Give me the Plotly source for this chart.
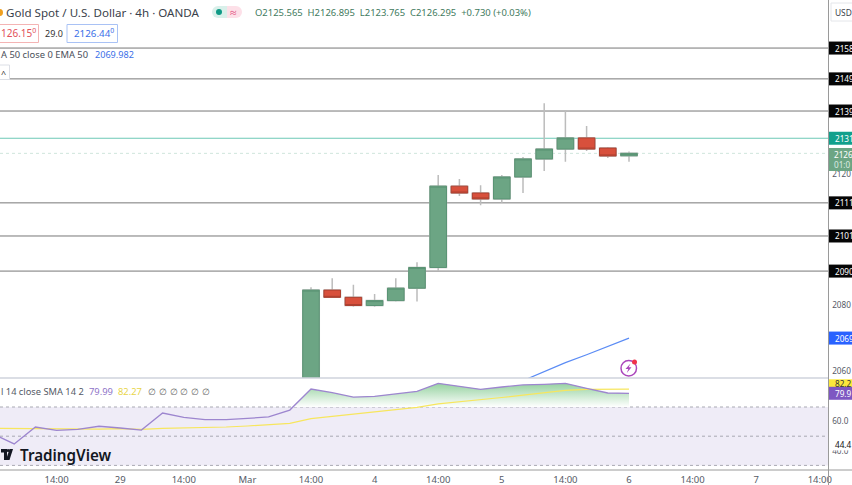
import plotly.graph_objects as go

W, H = 852, 485
FONT = "Noto Sans"

# ---------- data ----------
bar_index = list(range(16))
opens  = [2040.0, 2084.6, 2082.4, 2079.9, 2081.4, 2085.2, 2091.5, 2116.3, 2114.2, 2112.4, 2119.1, 2124.6, 2127.6, 2131.0, 2127.9, 2125.565]
highs  = [2085.5, 2088.2, 2086.2, 2083.4, 2088.2, 2093.1, 2119.7, 2118.5, 2116.6, 2119.7, 2125.2, 2141.6, 2139.5, 2134.6, 2128.2, 2126.895]
lows   = [2038.0, 2082.2, 2079.5, 2079.5, 2081.1, 2081.1, 2090.4, 2113.3, 2110.5, 2111.2, 2114.2, 2120.9, 2123.7, 2127.0, 2124.9, 2123.765]
closes = [2084.6, 2082.4, 2079.9, 2081.4, 2085.2, 2091.5, 2116.3, 2114.2, 2112.4, 2119.1, 2124.6, 2127.6, 2131.0, 2127.6, 2125.5, 2126.295]

ema_index = [10, 11, 12, 13, 14, 15]
ema_values = [2057.0, 2059.7, 2062.5, 2064.9, 2067.4, 2069.98]

rsi_index = list(range(-15, 16))
rsi_values = [51.5, 44.7, 56.3, 54.0, 54.7, 56.8, 55.6, 54.2, 65.9, 62.9, 61.3, 61.3, 62.2, 63.2, 67.9,
              82.3, 79.8, 76.8, 77.3, 78.9, 80.7, 86.2, 84.2, 82.1, 83.7, 85.1, 85.5, 86.2, 82.8, 79.6, 79.4]
rsi_ma_values = [55.4, 55.2, 55.2, 54.9, 54.7, 54.9, 55.2, 54.7, 55.4, 55.6, 55.8, 56.3, 57.0, 57.7, 58.8,
                 62.0, 63.6, 65.1, 66.7, 68.2, 69.8, 72.1, 73.4, 74.8, 76.5, 78.2, 79.8, 81.4, 82.1, 82.2, 82.27]

black_levels = [2158.4, 2149.0, 2139.2, 2111.2, 2101.1, 2090.4]
black_labels = ["2158", "2149", "2139", "2111", "2101", "2090"]
teal_level = 2130.9
last_price = 2126.295

x_tickvals = [-12, -9, -6, -3, 0, 3, 6, 9, 12, 15, 18, 21, 24]
x_ticktext = ["14:00", "29", "14:00", "Mar", "14:00", "4", "14:00", "5", "14:00", "6", "14:00", "7", "14:00"]
price_tickvals = [2120, 2080, 2060]
price_ticktext = ["2120", "2080", "2060"]
rsi_tickvals = [60, 40]
rsi_ticktext = ["60.0", "40.0"]

# ---------- colours ----------
UP_FILL, UP_LINE = "#6ca584", "#5a9474"
DN_FILL, DN_LINE = "#d8503c", "#ac4030"
WICK = "#bcbcbc"
LEVEL = "#777777"
TEAL = "#6cc9b6"
PURPLE = "#9d86cf"
YELLOW = "#f7e65e"
BLUE = "#5b8cf5"
GREY = "#555a66"
AXIS_SIZE = 8.2

# ---------- helpers ----------
def px(x):
    return x / W

def py(y):
    return 1 - y / H

shapes, annotations = [], []

def text(x, y, s, size=11, color="#444", anchor="left", weight=None):
    annotations.append(dict(xref="paper", yref="paper", x=px(x), y=py(y), text=s, showarrow=False,
                            xanchor=anchor, yanchor="middle", font=dict(size=size, color=color, family=FONT, weight=weight),
                            borderpad=0))

def rect(x0, y0, x1, y1, fill="rgba(0,0,0,0)", line=None, lw=1, layer="above"):
    shapes.append(dict(type="rect", xref="paper", yref="paper", x0=px(x0), x1=px(x1), y0=py(y0), y1=py(y1),
                       fillcolor=fill, line=dict(color=line or "rgba(0,0,0,0)", width=lw if line else 0), layer=layer))

def circle(x0, y0, x1, y1, fill="rgba(0,0,0,0)", line=None, lw=1):
    shapes.append(dict(type="circle", xref="paper", yref="paper", x0=px(x0), x1=px(x1), y0=py(y0), y1=py(y1),
                       fillcolor=fill, line=dict(color=line or "rgba(0,0,0,0)", width=lw if line else 0), layer="above"))

def poly(points, fill):
    d = "M " + " L ".join(f"{px(a):.5f},{py(b):.5f}" for a, b in points) + " Z"
    shapes.append(dict(type="path", xref="paper", yref="paper", path=d, fillcolor=fill,
                       line=dict(width=0), layer="above"))

def badge(value, yref, label, fill, color="#fff", h=13):
    shapes.append(dict(type="rect", xref="paper", x0=829 / W, x1=1, yref=yref, ysizemode="pixel",
                       yanchor=value, y0=-h / 2, y1=h / 2, fillcolor=fill, line=dict(width=0), layer="above"))
    annotations.append(dict(xref="paper", x=832.5 / W, yref=yref, y=value, text=label, showarrow=False,
                            xanchor="left", yanchor="middle", font=dict(size=AXIS_SIZE, color=color, family=FONT)))

fig = go.Figure()

# ---------- price pane ----------
fig.add_trace(go.Candlestick(x=bar_index, open=opens, high=highs, low=lows, close=closes,
                             whiskerwidth=0,
                             increasing=dict(line=dict(color=WICK, width=1.5), fillcolor=WICK),
                             decreasing=dict(line=dict(color=WICK, width=1.5), fillcolor=WICK),
                             xaxis="x", yaxis="y", hoverinfo="skip", showlegend=False))
body_high = [max(a, b) for a, b in zip(opens, closes)]
body_low = [min(a, b) for a, b in zip(opens, closes)]
fig.add_trace(go.Candlestick(x=bar_index, open=opens, high=body_high, low=body_low, close=closes,
                             whiskerwidth=0,
                             increasing=dict(line=dict(color=UP_LINE, width=1), fillcolor=UP_FILL),
                             decreasing=dict(line=dict(color=DN_LINE, width=1), fillcolor=DN_FILL),
                             xaxis="x", yaxis="y", hoverinfo="skip", showlegend=False))
fig.add_trace(go.Scatter(x=ema_index, y=ema_values, mode="lines", line=dict(color=BLUE, width=1.2),
                         xaxis="x", yaxis="y", hoverinfo="skip", showlegend=False))

for lvl in black_levels:
    shapes.append(dict(type="line", xref="paper", x0=0, x1=828.5 / W, yref="y", y0=lvl, y1=lvl,
                       line=dict(color=LEVEL, width=1), layer="below"))
shapes.append(dict(type="line", xref="paper", x0=0, x1=828.5 / W, yref="y", y0=teal_level, y1=teal_level,
                   line=dict(color=TEAL, width=1.2), layer="below"))
shapes.append(dict(type="line", xref="paper", x0=0, x1=828.5 / W, yref="y", y0=last_price, y1=last_price,
                   line=dict(color="#cfe6dc", width=1, dash="dot"), layer="below"))

# ---------- RSI pane ----------
shapes.append(dict(type="rect", xref="paper", x0=0, x1=828.5 / W, yref="y2", y0=30, y1=70,
                   fillcolor="#efecf7", line=dict(width=0), layer="below"))
for lvl in (70, 50, 30):
    shapes.append(dict(type="line", xref="paper", x0=0, x1=828.5 / W, yref="y2", y0=lvl, y1=lvl,
                       line=dict(color="#a9a9b3", width=1, dash="3px,3px"), layer="below"))

above_index = [-0.85] + rsi_index[15:]
above_values = [70.0] + rsi_values[15:]
fig.add_trace(go.Scatter(x=above_index, y=[70.0] * len(above_index), mode="lines", line=dict(width=0),
                         xaxis="x", yaxis="y2", hoverinfo="skip", showlegend=False))
fig.add_trace(go.Scatter(x=above_index, y=above_values, mode="lines", line=dict(width=0), fill="tonexty",
                         fillgradient=dict(type="vertical", start=86.2, stop=70,
                                           colorscale=[[0, "rgb(150,210,160)"], [1, "rgb(255,255,255)"]]),
                         xaxis="x", yaxis="y2", hoverinfo="skip", showlegend=False))
fig.add_trace(go.Scatter(x=rsi_index, y=rsi_ma_values, mode="lines", line=dict(color=YELLOW, width=1.2),
                         xaxis="x", yaxis="y2", hoverinfo="skip", showlegend=False))
fig.add_trace(go.Scatter(x=rsi_index, y=rsi_values, mode="lines", line=dict(color=PURPLE, width=1.3),
                         xaxis="x", yaxis="y2", hoverinfo="skip", showlegend=False))

# ---------- pane frame ----------
shapes.append(dict(type="line", xref="paper", yref="paper", x0=0, x1=828.5 / W, y0=py(378), y1=py(378),
                   line=dict(color="#cfd3dc", width=1.5), layer="above"))
shapes.append(dict(type="line", xref="paper", yref="paper", x0=828.5 / W, x1=828.5 / W, y0=0, y1=1,
                   line=dict(color="#9a9a9a", width=1), layer="above"))
shapes.append(dict(type="line", xref="paper", yref="paper", x0=0, x1=1, y0=py(470), y1=py(470),
                   line=dict(color="#9a9a9a", width=1), layer="above"))

# ---------- price and RSI badges ----------
for lvl, lab in zip(black_levels, black_labels):
    badge(lvl, "y", lab, "#050505")
badge(teal_level, "y", "2131", "#12a08c")
badge(2069.98, "y", "2069", "#2962ff")
badge(85.9, "y2", "82.2", "#fbe83c", color="#333", h=9)
badge(79.4, "y2", "79.9", "#7e57c2")
badge(44.4, "y2", "44.4", "#ffffff", color="#111", h=12)

rect(829, 148, 852, 171, fill=UP_FILL)
text(832.5, 154, "2126", size=AXIS_SIZE, color="#fff")
text(832.5, 164, "01:0", size=AXIS_SIZE, color="#dcebe3")

# ---------- header ----------
circle(-4, 9, 3, 16, fill="#f0a020")
text(5, 12, "Gold Spot / U.S. Dollar · 4h · OANDA", size=11.6, color="#3a3f4b")

rect(218, 6, 227, 18, fill="#d9f0ea")
circle(212, 6, 224, 18, fill="#d9f0ea")
rect(227, 6, 236, 18, fill="#fde0e8")
circle(230, 6, 242, 18, fill="#fde0e8")
circle(216, 9, 222, 15, fill="#109a86")
text(233.5, 12, "≈", size=12, color="#e0487a", anchor="center")

text(254, 12, "O2125.565  H2126.895  L2123.765  C2126.295  +0.730 (+0.03%)", size=9.45, color="#3f7a5e")

rect(-4, 24.5, 38.5, 42.5, fill="#fff", line="#f4b4b4")
text(0, 33.5, "126.15<sup>0</sup>", size=10, color="#e2505a")
text(44, 33.5, "29.0", size=9, color="#333")
rect(67, 24.5, 117.5, 42.5, fill="#fff", line="#a9c2f5")
text(73, 33.5, "2126.44<sup>0</sup>", size=9.8, color="#3b6fe8")

text(0, 54.5, "A 50 close 0 EMA 50", size=9.4, color="#4a4f5a")
text(94, 54.5, "2069.982", size=9.1, color="#3b6fe8")

rect(-3, 65, 9.5, 79.5, fill="#fff", line="#dcdfe6")
text(0, 73, "^", size=9, color="#333")

rect(831, 3, 853, 21, fill="#fff", line="#e4e6ea")
text(833.5, 12, "USD", size=8.4, color="#3a3f4b")

# ---------- RSI legend ----------
text(0, 391, "l 14 close SMA 14 2", size=9.3, color="#555a66")
text(88, 391, "79.99", size=9.4, color="#8e74c8")
text(117, 391, "82.27", size=9.4, color="#e8d54a")
for i in range(6):
    text(147 + i * 10.8, 391, "∅", size=9.4, color="#666")

# ---------- TradingView logo ----------
poly([(1, 449), (7, 449), (7, 460), (4, 460), (4, 452.5), (1, 452.5)], "#131722")
circle(6.6, 449, 9.6, 452, fill="#131722")
poly([(9.5, 449), (13, 449), (9.5, 460), (6, 460)], "#131722")
text(19, 454.5, "TradingView", size=15.2, color="#131722", weight=600)

# ---------- alert icon ----------
circle(621, 360.5, 636.5, 376, line="#ab47bc", lw=1.5)
poly([(630.5, 363.5), (625.5, 369), (628.3, 369), (626.8, 373), (631.5, 367.3), (628.7, 367.3)], "#ab47bc")
circle(632, 359.5, 637, 364.5, fill="#f0324a")

fig.update_layout(
    width=W, height=H, autosize=False,
    margin=dict(l=0, r=0, t=0, b=0, pad=0),
    paper_bgcolor="#ffffff", plot_bgcolor="rgba(0,0,0,0)",
    showlegend=False, boxgap=0.22, boxgroupgap=0, boxmode="overlay",
    font=dict(family=FONT, size=9.5, color=GREY),
    shapes=shapes, annotations=annotations,
    xaxis=dict(domain=[0, 828.5 / W], range=[-311 / 21.2, (828.5 - 311) / 21.2], anchor="y2",
               tickmode="array", tickvals=x_tickvals, ticktext=x_ticktext, tickfont=dict(size=9.5, color=GREY),
               showgrid=False, zeroline=False, showline=False, ticks="outside", ticklen=1,
               tickcolor="rgba(0,0,0,0)", rangeslider=dict(visible=False), automargin=False),
    yaxis=dict(domain=[1 - 378 / H, 1], range=[2120 + (174 - 378) / 3.28, 2120 + 174 / 3.28], side="right", anchor="x",
               tickmode="array", tickvals=price_tickvals, ticktext=price_ticktext, tickfont=dict(size=AXIS_SIZE, color=GREY),
               showgrid=False, zeroline=False, showline=False, ticks="outside", ticklen=1,
               tickcolor="rgba(0,0,0,0)", automargin=False),
    yaxis2=dict(domain=[1 - 470 / H, 1 - 378 / H], range=[70 - 63 / 1.46, 70 + 29 / 1.46], side="right", anchor="x",
                tickmode="array", tickvals=rsi_tickvals, ticktext=rsi_ticktext, tickfont=dict(size=AXIS_SIZE, color=GREY),
                showgrid=False, zeroline=False, showline=False, ticks="outside", ticklen=1,
                tickcolor="rgba(0,0,0,0)", automargin=False),
)

fig.write_html("out.html", config=dict(displayModeBar=False),
               post_script="document.body.style.margin='0';document.documentElement.style.overflow='hidden';")
